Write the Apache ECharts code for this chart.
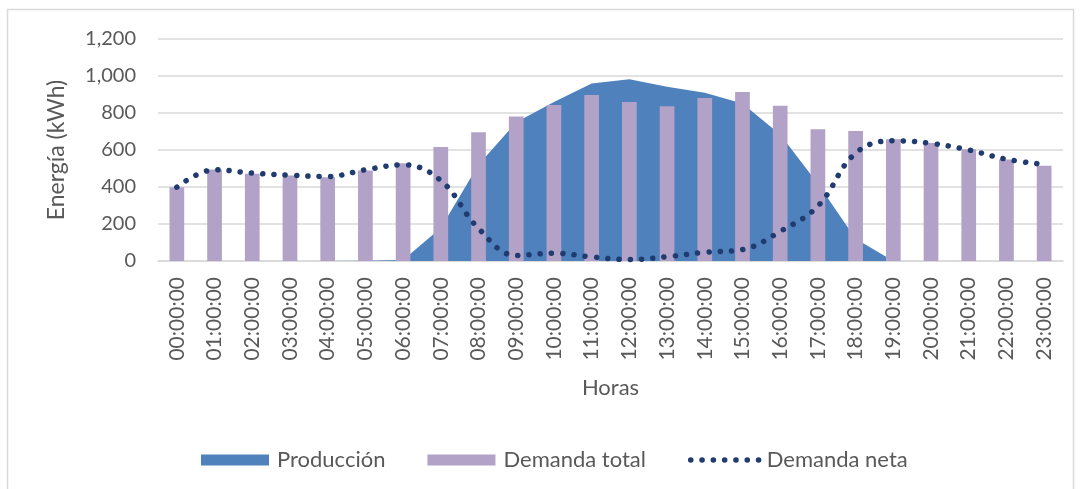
<!DOCTYPE html>
<html>
<head>
<meta charset="utf-8">
<script src="https://cdn.jsdelivr.net/npm/echarts@6/dist/echarts.min.js"></script>
<style>
  html, body { margin: 0; padding: 0; background: #fff; }
  #chart { width: 1080px; height: 489px; }
</style>
</head>
<body>
<div id="chart"></div>
<script>
// horas del día
const horas = [
    '00:00:00', '01:00:00', '02:00:00', '03:00:00', '04:00:00', '05:00:00',
    '06:00:00', '07:00:00', '08:00:00', '09:00:00', '10:00:00', '11:00:00',
    '12:00:00', '13:00:00', '14:00:00', '15:00:00', '16:00:00', '17:00:00',
    '18:00:00', '19:00:00', '20:00:00', '21:00:00', '22:00:00', '23:00:00'
];

// kWh
const produccion = [0, 0, 0, 0, 0, 1, 6, 178, 520, 750, 860, 960, 982, 942, 910, 851, 684, 417, 120, 0, 0, 0, 0, 0];
const demandaTotal = [399, 495, 471, 462, 453, 489, 529, 616, 696, 781, 843, 897, 859, 836, 881, 914, 839, 712, 703, 658, 638, 604, 549, 515];
const demandaNeta = [399, 493, 475, 464, 457, 493, 520, 435, 176, 30, 42, 22, 8, 23, 47, 62, 160, 297, 583, 650, 636, 600, 550, 522];

const yTicks = [0, 200, 400, 600, 800, 1000, 1200];

const textColor = '#595959';
const gridColor = '#d9d9d9';
const netColor = '#1f3b6f';
const fontFam = 'Lato, "Open Sans", sans-serif';

const dotted = {
    color: netColor,
    width: 5.5,
    type: [0.1, 11.2],
    cap: 'round'
};

const myChart = echarts.init(document.getElementById('chart'));

const option = {
    animation: false,
    graphic: [{
        type: 'rect',
        shape: { x: 7.5, y: 9.5, width: 1066, height: 500 },
        style: { fill: 'none', stroke: gridColor, lineWidth: 1.5 },
        silent: true
    }],
    grid: {
        left: 158,
        right: 17,
        top: 39,
        bottom: 228
    },
    legend: {
        left: 196,
        top: 444,
        itemWidth: 68,
        itemHeight: 11,
        itemGap: 42,
        textStyle: { color: textColor, fontSize: 22, fontFamily: fontFam, padding: [0, 0, 0, 3] },
        data: [
            { name: 'Producción', icon: 'rect' },
            { name: 'Demanda total', icon: 'rect' },
            { name: 'Demanda neta', itemStyle: { opacity: 0 }, lineStyle: dotted }
        ]
    },
    xAxis: {
        type: 'category',
        data: horas,
        boundaryGap: true,
        name: 'Horas',
        nameLocation: 'middle',
        nameGap: 116,
        nameTextStyle: { color: textColor, fontSize: 22, fontFamily: fontFam },
        axisLine: { lineStyle: { color: gridColor, width: 1.5 } },
        axisTick: { show: false },
        axisLabel: {
            rotate: 90,
            margin: 16,
            interval: 0,
            color: textColor,
            fontSize: 21,
            fontFamily: fontFam
        }
    },
    yAxis: {
        type: 'value',
        min: yTicks[0],
        max: yTicks[yTicks.length - 1],
        interval: 200,
        name: 'Energía (kWh)',
        nameLocation: 'middle',
        nameGap: 90,
        nameTextStyle: { color: textColor, fontSize: 23, fontFamily: fontFam },
        axisLine: { show: false },
        axisTick: { show: false },
        splitLine: { lineStyle: { color: gridColor, width: 1.5 } },
        axisLabel: {
            margin: 22,
            color: textColor,
            fontSize: 20,
            fontFamily: fontFam,
            formatter: function (v) {
                return v.toLocaleString('en-US');
            }
        }
    },
    series: [
        {
            name: 'Producción',
            type: 'line',
            data: produccion,
            symbol: 'none',
            lineStyle: { width: 0, color: '#4f81bd' },
            itemStyle: { color: '#4f81bd' },
            areaStyle: { color: '#4f81bd', opacity: 1 },
            z: 1
        },
        {
            name: 'Demanda total',
            type: 'bar',
            data: demandaTotal,
            barWidth: '39%',
            itemStyle: { color: '#b2a2c7' },
            z: 2
        },
        {
            name: 'Demanda neta',
            type: 'line',
            data: demandaNeta,
            smooth: 0.4,
            symbol: 'none',
            itemStyle: { color: netColor },
            lineStyle: dotted,
            z: 3
        }
    ]
};

myChart.setOption(option);
</script>
</body>
</html>
